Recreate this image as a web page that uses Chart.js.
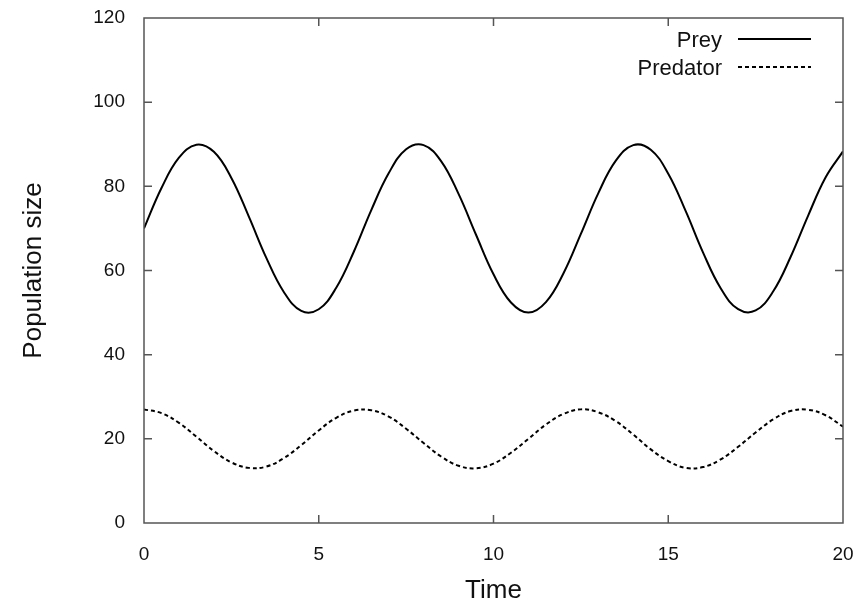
<!DOCTYPE html>
<html>
<head>
<meta charset="utf-8">
<script src="https://cdn.jsdelivr.net/npm/chart.js@4/dist/chart.umd.min.js"></script>
<style>
  html, body { margin: 0; padding: 0; background: #fff; }
  #wrap { width: 866px; height: 603px; }
</style>
</head>
<body>
<div id="wrap"><canvas id="chart" width="866" height="603"></canvas></div>
<script>
//
// DATA
//
const time_points = [
    0, 0.5, 1, 1.5, 2, 2.5, 3, 3.5, 4, 4.5,
    5, 5.5, 6, 6.5, 7, 7.5, 8, 8.5, 9, 9.5,
    10, 10.5, 11, 11.5, 12, 12.5, 13, 13.5, 14, 14.5,
    15, 15.5, 16, 16.5, 17, 17.5, 18, 18.5, 19, 19.5, 20
];
const prey_values = [
    70.0, 79.6, 86.8, 89.9, 88.2, 82.0, 72.8, 63.0, 54.9, 50.4,
    50.8, 55.9, 64.4, 74.3, 83.1, 88.8, 89.8, 86.0, 78.2, 68.5,
    59.1, 52.4, 50.0, 52.5, 59.3, 68.7, 78.4, 86.1, 89.8, 88.7,
    83.0, 74.1, 64.2, 55.8, 50.8, 50.5, 55.0, 63.2, 73.0, 82.1, 88.3
];
const predator_values = [
    27.0, 26.1, 23.8, 20.5, 17.1, 14.4, 13.1, 13.4, 15.4, 18.5,
    22.0, 25.0, 26.7, 26.8, 25.3, 22.4, 19.0, 15.8, 13.6, 13.0,
    14.1, 16.7, 20.0, 23.4, 25.9, 27.0, 26.3, 24.2, 21.0, 17.5,
    14.7, 13.1, 13.3, 15.1, 18.1, 21.5, 24.6, 26.6, 26.9, 25.6, 22.9
];
const series_labels = ["Prey", "Predator"];
const x_ticks = [0, 5, 10, 15, 20];
const y_ticks = [0, 20, 40, 60, 80, 100, 120];

const FONT = "'Liberation Sans', Arial, Helvetica, sans-serif";
const FRAME = "#555";

function to_points(values) {
    return values.map((v, i) => ({ x: time_points[i], y: v }));
}

// kill the label-overflow padding so the plot box lands where the reference has it
function no_overflow(s) {
    s.paddingTop = 0;
    s.paddingBottom = 0;
    s.paddingLeft = 0;
    s.paddingRight = 0;
}

//
// FRAME + INWARD TICKS (gnuplot style, mirrored)
//
const frame_plugin = {
    id: "frame",
    afterDatasetsDraw(chart) {
        const { ctx, chartArea: a, scales } = chart;
        const len = 8;
        ctx.save();
        ctx.strokeStyle = FRAME;
        ctx.lineWidth = 1.5;
        ctx.beginPath();
        x_ticks.forEach(v => {
            const px = scales.x.getPixelForValue(v);
            if (v === x_ticks[0] || v === x_ticks[x_ticks.length - 1]) return;
            ctx.moveTo(px, a.bottom); ctx.lineTo(px, a.bottom - len);
            ctx.moveTo(px, a.top); ctx.lineTo(px, a.top + len);
        });
        y_ticks.forEach(v => {
            const py = scales.y.getPixelForValue(v);
            if (v === y_ticks[0] || v === y_ticks[y_ticks.length - 1]) return;
            ctx.moveTo(a.left, py); ctx.lineTo(a.left + len, py);
            ctx.moveTo(a.right, py); ctx.lineTo(a.right - len, py);
        });
        ctx.stroke();
        ctx.strokeRect(a.left, a.top, a.right - a.left, a.bottom - a.top);
        ctx.restore();
    }
};

//
// LEGEND (text on the left, sample line on the right)
//
const legend_plugin = {
    id: "key",
    afterDraw(chart) {
        const { ctx } = chart;
        const rows = chart.data.datasets;
        ctx.save();
        ctx.font = "22px " + FONT;
        ctx.fillStyle = "#111";
        ctx.textAlign = "right";
        ctx.textBaseline = "alphabetic";
        rows.forEach((ds, i) => {
            const base = 47 + i * 28;
            ctx.fillText(ds.label, 722, base);
            ctx.strokeStyle = ds.borderColor;
            ctx.lineWidth = ds.borderWidth;
            ctx.setLineDash(ds.borderDash || []);
            ctx.beginPath();
            ctx.moveTo(738, base - 8);
            ctx.lineTo(811, base - 8);
            ctx.stroke();
        });
        ctx.restore();
    }
};

new Chart(document.getElementById("chart"), {
    type: "line",
    data: {
        datasets: [
            {
                label: series_labels[0],
                data: to_points(prey_values),
                borderColor: "#000",
                borderWidth: 2,
                pointRadius: 0,
                tension: 0.4,
                fill: false
            },
            {
                label: series_labels[1],
                data: to_points(predator_values),
                borderColor: "#000",
                borderWidth: 2,
                borderDash: [4, 3],
                pointRadius: 0,
                tension: 0.4,
                fill: false
            }
        ]
    },
    options: {
        responsive: false,
        animation: false,
        layout: { padding: { top: 18, right: 23, left: 0, bottom: 0 } },
        plugins: {
            legend: { display: false },
            tooltip: { enabled: false }
        },
        scales: {
            x: {
                type: "linear",
                min: 0,
                max: 20,
                afterBuildTicks: s => { s.ticks = x_ticks.map(v => ({ value: v })); },
                afterFit: s => { s.height = 80; no_overflow(s); },
                grid: { drawOnChartArea: false, drawTicks: false },
                border: { display: false },
                ticks: {
                    padding: 20,
                    color: "#111",
                    font: { family: FONT, size: 19 }
                },
                title: {
                    display: true,
                    text: "Time",
                    color: "#111",
                    font: { family: FONT, size: 26 },
                    padding: { top: 4, bottom: -3 }
                }
            },
            y: {
                type: "linear",
                min: 0,
                max: 120,
                afterBuildTicks: s => { s.ticks = y_ticks.map(v => ({ value: v })); },
                afterFit: s => { s.width = 144; no_overflow(s); },
                grid: { drawOnChartArea: false, drawTicks: false },
                border: { display: false },
                ticks: {
                    padding: 19,
                    color: "#111",
                    font: { family: FONT, size: 19 }
                },
                title: {
                    display: true,
                    text: "Population size",
                    color: "#111",
                    font: { family: FONT, size: 26 },
                    padding: { top: 18, bottom: 0 }
                }
            }
        }
    },
    plugins: [frame_plugin, legend_plugin]
});
</script>
</body>
</html>
